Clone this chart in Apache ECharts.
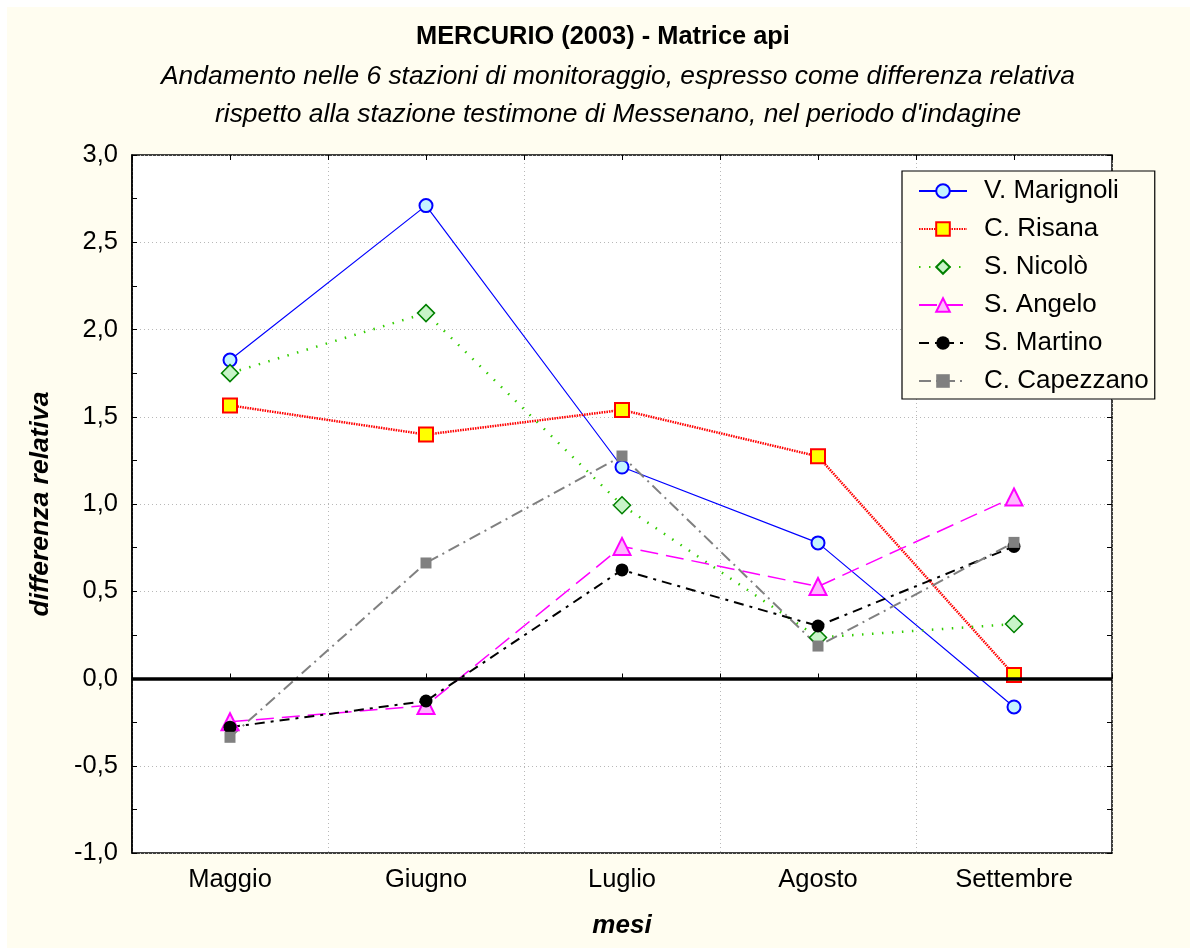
<!DOCTYPE html>
<html>
<head>
<meta charset="utf-8">
<script src="https://cdn.jsdelivr.net/npm/echarts@6/dist/echarts.min.js"></script>
<style>
html,body{margin:0;padding:0;background:#ffffff;}
#chart{width:1190px;height:948px;}
</style>
</head>
<body>
<div id="chart"></div>
<script>
const months = ['Maggio', 'Giugno', 'Luglio', 'Agosto', 'Settembre'];
const marignoli = [1.825, 2.71, 1.212, 0.777, -0.163];
const risana = [1.565, 1.398, 1.539, 1.273, 0.02];
const nicolo = [1.75, 2.094, 0.993, 0.235, 0.312];
const angelo = [-0.248, -0.155, 0.757, 0.527, 1.04];
const martino = [-0.279, -0.129, 0.622, 0.301, 0.757];
const capezzano = [-0.337, 0.662, 1.275, 0.186, 0.78];
const yTicks = [-1, -0.5, 0, 0.5, 1, 1.5, 2, 2.5, 3];

const FONT = 'Liberation Sans';
const BEIGE = '#FFFDF0';

const chart = echarts.init(document.getElementById('chart'), null, {renderer: 'canvas'});

function lineSeries(name, data, color, width, dash, symbol, size, fill, border, bw) {
  return {
    name: name, type: 'line', data: data,
    symbol: symbol, symbolSize: size,
    lineStyle: {color: color, width: width, type: dash},
    itemStyle: {color: fill, borderColor: border, borderWidth: bw},
    emphasis: {disabled: true},
    animation: false
  };
}

const series = [
  lineSeries('V. Marignoli', marignoli, '#0000FF', 1.2, 'solid', 'circle', 13, '#C4F4FF', '#0000FF', 2),
  lineSeries('C. Risana', risana, '#FF0000', 2.5, [1.5, 1], 'rect', 14, '#FFFF00', '#FF0000', 2),
  lineSeries('S. Nicolò', nicolo, '#33CC00', 2.5, [1.5, 8.5], 'diamond', 17, '#C8F4C8', '#008000', 1.5),
  lineSeries('S. Angelo', angelo, '#FF00FF', 1.5, [18, 8], 'triangle', 17, '#FFB8FF', '#FF00FF', 2),
  lineSeries('S. Martino', martino, '#000000', 2, [10, 6, 3, 6], 'circle', 13, '#000000', '#000000', 0),
  lineSeries('C. Capezzano', capezzano, '#808080', 2, [12, 5, 2, 5], 'rect', 11, '#808080', '#808080', 0)
];
series[0].markLine = {
  silent: true, symbol: 'none', label: {show: false},
  lineStyle: {color: '#000000', width: 3.5, type: 'solid'},
  data: [{yAxis: 0}], animation: false
};
series[0].z = 3;

const fmt = v => v.toFixed(1).replace('.', ',');

const option = {
  animation: false,
  backgroundColor: 'transparent',
  graphic: [{
    type: 'rect', z: -10, silent: true,
    shape: {x: 7, y: 7, width: 1190, height: 948},
    style: {fill: BEIGE}
  }],
  title: [
    {text: 'MERCURIO (2003) - Matrice api', left: 411, top: 19,
     textStyle: {fontFamily: FONT, fontSize: 25.4, fontWeight: 'bold', color: '#000'}},
    {text: 'Andamento nelle 6 stazioni di monitoraggio, espresso come differenza relativa', left: 156, top: 59,
     textStyle: {fontFamily: FONT, fontSize: 26.4, fontStyle: 'italic', fontWeight: 'normal', color: '#000'}},
    {text: "rispetto alla stazione testimone di Messenano, nel periodo d'indagine", left: 210, top: 97,
     textStyle: {fontFamily: FONT, fontSize: 26.4, fontStyle: 'italic', fontWeight: 'normal', color: '#000'}}
  ],
  grid: {left: 132, right: 78, top: 155, bottom: 95, show: true, backgroundColor: '#FFFFFF', borderColor: '#000', borderWidth: 1.5, containLabel: false},
  legend: {
    orient: 'vertical', left: 902, top: 171,
    backgroundColor: BEIGE, borderColor: '#000', borderWidth: 1.2,
    padding: [7, 6, 5, 16], itemGap: 12, itemWidth: 48, itemHeight: 17,
    textStyle: {fontFamily: FONT, fontSize: 26, color: '#000', lineHeight: 25, padding: [0, 0, 0, 12]},
    data: series.map(s => s.name)
  },
  xAxis: [
    {type: 'category', data: months, boundaryGap: true, position: 'bottom',
     axisLine: {show: true, lineStyle: {color: '#000', width: 1.5}},
     axisTick: {show: true, inside: true, length: 5, lineStyle: {color: '#000'}},
     axisLabel: {fontFamily: FONT, fontSize: 25.5, color: '#000', margin: 14},
     splitLine: {show: true, lineStyle: {color: '#B8B8B8', type: [1, 3], width: 1}},
     name: 'mesi', nameLocation: 'middle', nameGap: 60,
     nameTextStyle: {fontFamily: FONT, fontSize: 26, fontWeight: 'bold', fontStyle: 'italic', color: '#000'}},
    {type: 'category', data: months, boundaryGap: true, position: 'bottom',
     axisLine: {show: false}, axisLabel: {show: false}, splitLine: {show: false},
     axisTick: {show: true, inside: true, alignWithLabel: true, length: 5, lineStyle: {color: '#000'}}},
    {type: 'category', data: months, boundaryGap: true, position: 'top',
     axisLine: {show: false}, axisLabel: {show: false}, splitLine: {show: false},
     axisTick: {show: true, inside: true, length: 5, lineStyle: {color: '#000'}}},
    {type: 'category', data: months, boundaryGap: true, position: 'top',
     axisLine: {show: false}, axisLabel: {show: false}, splitLine: {show: false},
     axisTick: {show: true, inside: true, alignWithLabel: true, length: 5, lineStyle: {color: '#000'}}}
  ],
  yAxis: [
    {type: 'value', min: yTicks[0], max: yTicks[yTicks.length - 1], interval: 0.5, position: 'left',
     axisLine: {show: true, lineStyle: {color: '#000', width: 1.5}},
     axisTick: {show: true, inside: true, length: 5, lineStyle: {color: '#000'}},
     minorTick: {show: true, splitNumber: 2, length: 5, lineStyle: {color: '#000'}},
     axisLabel: {fontFamily: FONT, fontSize: 25.5, color: '#000', margin: 14, formatter: fmt},
     splitLine: {show: true, lineStyle: {color: '#B8B8B8', type: [1, 3], width: 1}},
     name: 'differenza relativa', nameLocation: 'middle', nameGap: 78, nameRotate: 90,
     nameTextStyle: {fontFamily: FONT, fontSize: 26.5, fontWeight: 'bold', fontStyle: 'italic', color: '#000'}},
    {type: 'value', min: yTicks[0], max: yTicks[yTicks.length - 1], interval: 0.5, position: 'right',
     axisLine: {show: false}, axisLabel: {show: false}, splitLine: {show: false},
     axisTick: {show: true, inside: true, length: 5, lineStyle: {color: '#000'}},
     minorTick: {show: true, splitNumber: 2, length: 5, lineStyle: {color: '#000'}}}
  ],
  series: series
};
chart.setOption(option);
</script>
</body>
</html>
